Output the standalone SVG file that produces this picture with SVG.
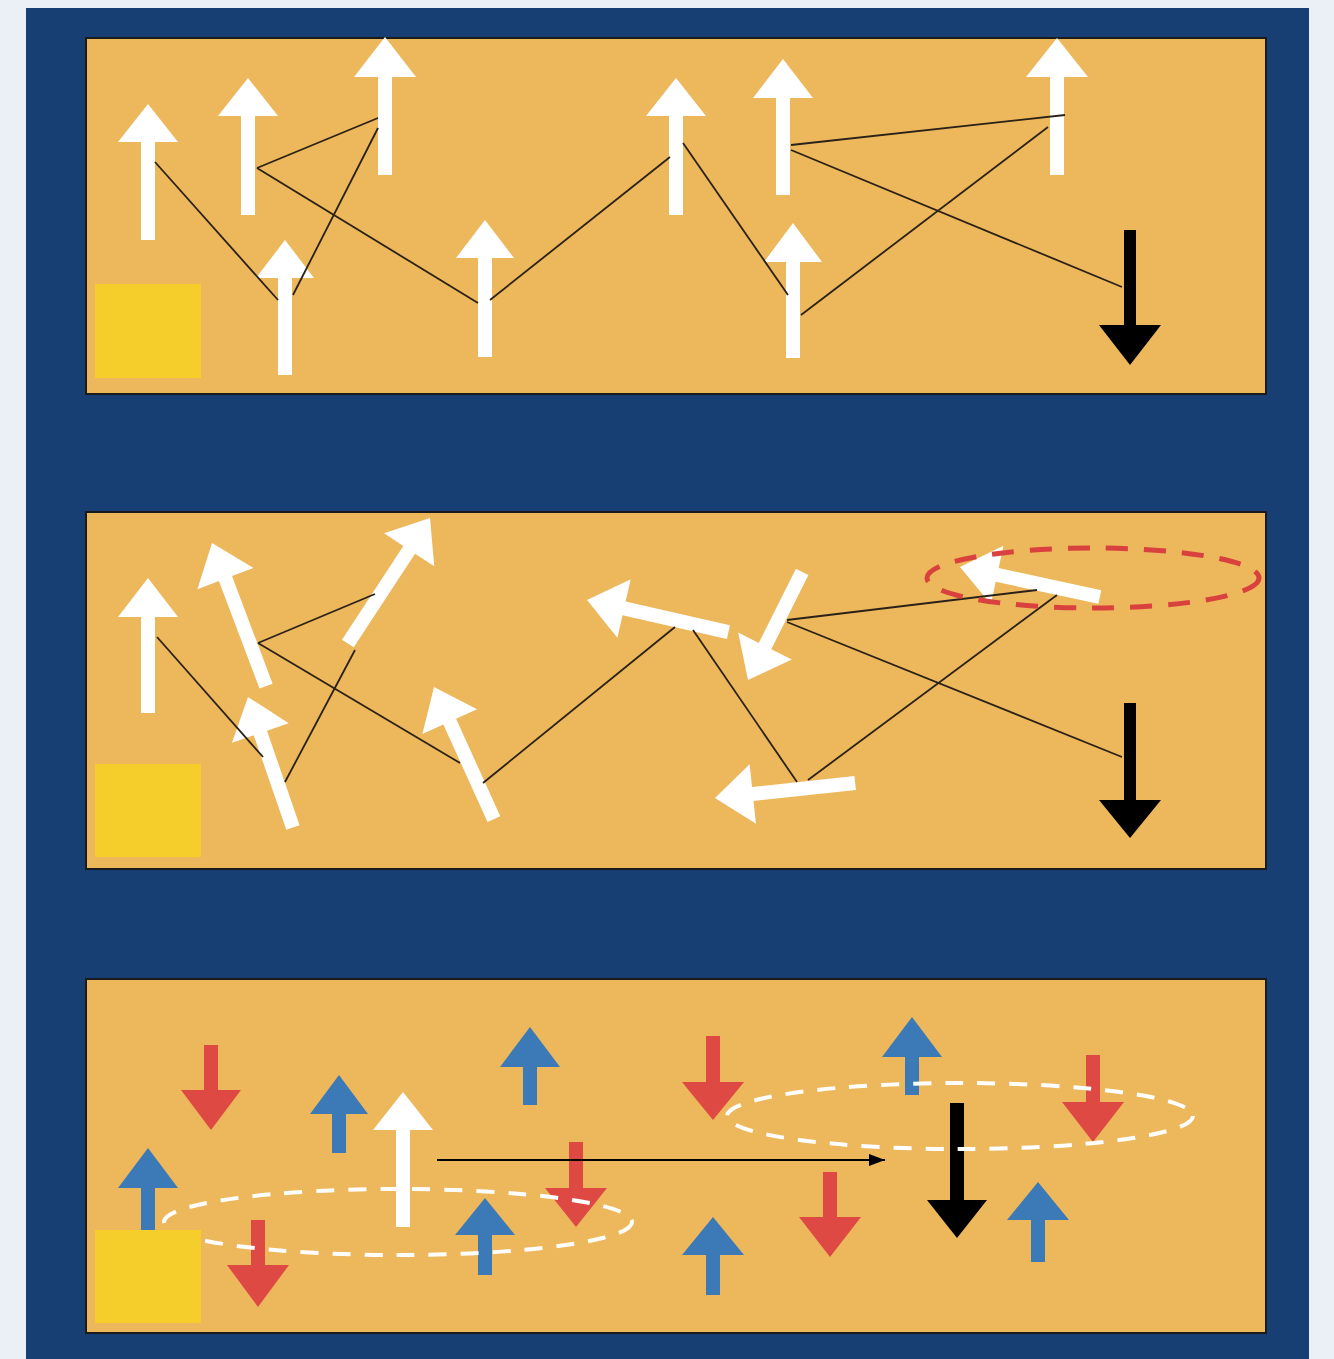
<svg xmlns="http://www.w3.org/2000/svg" width="1334" height="1359" viewBox="0 0 1334 1359">
<style>
.panel{fill:#EDB75C;stroke:#1b1b1b;stroke-width:2}
.sq{fill:#F5CE2B}
.w{fill:#FFFFFF}
.k{fill:#000000}
.r{fill:#DE4944}
.b{fill:#3B7AB7}
.ln{stroke:#2a2118;stroke-width:1.8;fill:none}
.dw{fill:none;stroke:#FFFFFF;stroke-width:4;stroke-dasharray:18 14}
.dr{fill:none;stroke:#D9413F;stroke-width:5;stroke-dasharray:22 16}
</style>
<defs>
<marker id="ah" viewBox="0 0 16 12" refX="16" refY="6" markerWidth="16" markerHeight="12" markerUnits="userSpaceOnUse" orient="auto">
<path d="M0,0 L16,6 L0,12 Z" fill="#000"/>
</marker>
</defs>
<rect x="0" y="0" width="1334" height="1359" fill="#EBF0F6"/>
<rect x="26" y="8" width="1283" height="1351" fill="#173F73"/>

<g id="panel1">
<rect class="panel" x="86" y="38" width="1180" height="356"/>
<rect class="sq" x="95" y="284" width="106" height="94"/>
</g>
<g id="panel2">
<rect class="panel" x="86" y="512" width="1180" height="357"/>
<rect class="sq" x="95" y="764" width="106" height="93"/>
</g>
<g id="panel3">
<rect class="panel" x="86" y="979" width="1180" height="354"/>
</g>

<!-- panel 1 nodes -->
<g id="p1-a1" class="w"><path transform="translate(148,104)" d="M0,0 L30,38 L7,38 L7,136 L-7,136 L-7,38 L-30,38 Z"/></g>
<g id="p1-a2" class="w"><path transform="translate(248,78)" d="M0,0 L30,38 L7,38 L7,137 L-7,137 L-7,38 L-30,38 Z"/></g>
<g id="p1-a3" class="w"><path transform="translate(385,37)" d="M0,0 L31,40 L7,40 L7,138 L-7,138 L-7,40 L-31,40 Z"/></g>
<g id="p1-a4" class="w"><path transform="translate(285,240)" d="M0,0 L29,38 L7,38 L7,135 L-7,135 L-7,38 L-29,38 Z"/></g>
<g id="p1-a5" class="w"><path transform="translate(485,220)" d="M0,0 L29,38 L7,38 L7,137 L-7,137 L-7,38 L-29,38 Z"/></g>
<g id="p1-a6" class="w"><path transform="translate(676,78)" d="M0,0 L30,38 L7,38 L7,137 L-7,137 L-7,38 L-30,38 Z"/></g>
<g id="p1-a7" class="w"><path transform="translate(783,59)" d="M0,0 L30,39 L7,39 L7,136 L-7,136 L-7,39 L-30,39 Z"/></g>
<g id="p1-a8" class="w"><path transform="translate(793,223)" d="M0,0 L29,39 L7,39 L7,135 L-7,135 L-7,39 L-29,39 Z"/></g>
<g id="p1-a9" class="w"><path transform="translate(1057,38)" d="M0,0 L31,39 L7,39 L7,137 L-7,137 L-7,39 L-31,39 Z"/></g>
<g id="p1-black" class="k"><path transform="translate(1130,365) rotate(180)" d="M0,0 L31,40 L6,40 L6,135 L-6,135 L-6,40 L-31,40 Z"/></g>

<!-- panel 2 nodes -->
<g id="p2-a1" class="w"><path transform="translate(148,578)" d="M0,0 L30,39 L7,39 L7,135 L-7,135 L-7,39 L-30,39 Z"/></g>
<g id="p2-a2" class="w"><path transform="translate(212,543) rotate(-20.7)" d="M0,0 L30,38 L7,38 L7,153 L-7,153 L-7,38 L-30,38 Z"/></g>
<g id="p2-a3" class="w"><path transform="translate(430,518) rotate(33.2)" d="M0,0 L30,38 L7,38 L7,150 L-7,150 L-7,38 L-30,38 Z"/></g>
<g id="p2-a4" class="w"><path transform="translate(248,697) rotate(-19)" d="M0,0 L30,38 L7,38 L7,138 L-7,138 L-7,38 L-30,38 Z"/></g>
<g id="p2-a5" class="w"><path transform="translate(434,687) rotate(-24.4)" d="M0,0 L30,38 L7,38 L7,145 L-7,145 L-7,38 L-30,38 Z"/></g>
<g id="p2-a6" class="w"><path transform="translate(587,600) rotate(-77.2)" d="M0,0 L30,38 L7,38 L7,145 L-7,145 L-7,38 L-30,38 Z"/></g>
<g id="p2-a7" class="w"><path transform="translate(748,680) rotate(-153.4)" d="M0,0 L30,38 L7,38 L7,121 L-7,121 L-7,38 L-30,38 Z"/></g>
<g id="p2-a8" class="w"><path transform="translate(715,798) rotate(-96.1)" d="M0,0 L30,38 L7,38 L7,141 L-7,141 L-7,38 L-30,38 Z"/></g>
<g id="p2-a9" class="w"><path transform="translate(960,567) rotate(-77.9)" d="M0,0 L30,38 L7,38 L7,143 L-7,143 L-7,38 L-30,38 Z"/></g>
<g id="p2-black" class="k"><path transform="translate(1130,838) rotate(180)" d="M0,0 L31,38 L6,38 L6,135 L-6,135 L-6,38 L-31,38 Z"/></g>

<!-- panel 3 nodes -->
<g id="p3-r1" class="r"><path transform="translate(211,1130) rotate(180)" d="M0,0 L30,40 L7,40 L7,85 L-7,85 L-7,40 L-30,40 Z"/></g>
<g id="p3-b1" class="b"><path transform="translate(148,1148)" d="M0,0 L30,40 L7,40 L7,82 L-7,82 L-7,40 L-30,40 Z"/></g>
<g id="p3-b2" class="b"><path transform="translate(339,1075)" d="M0,0 L29,39 L7,39 L7,78 L-7,78 L-7,39 L-29,39 Z"/></g>
<g id="p3-w" class="w"><path transform="translate(403,1092)" d="M0,0 L30,38 L7,38 L7,135 L-7,135 L-7,38 L-30,38 Z"/></g>
<g id="p3-r2" class="r"><path transform="translate(258,1307) rotate(180)" d="M0,0 L31,42 L7,42 L7,87 L-7,87 L-7,42 L-31,42 Z"/></g>
<g id="p3-b3" class="b"><path transform="translate(485,1198)" d="M0,0 L30,37 L7,37 L7,77 L-7,77 L-7,37 L-30,37 Z"/></g>
<g id="p3-b4" class="b"><path transform="translate(530,1027)" d="M0,0 L30,40 L7,40 L7,78 L-7,78 L-7,40 L-30,40 Z"/></g>
<g id="p3-r3" class="r"><path transform="translate(576,1227) rotate(180)" d="M0,0 L31,39 L7,39 L7,85 L-7,85 L-7,39 L-31,39 Z"/></g>
<g id="p3-r4" class="r"><path transform="translate(713,1120) rotate(180)" d="M0,0 L31,38 L7,38 L7,84 L-7,84 L-7,38 L-31,38 Z"/></g>
<g id="p3-b5" class="b"><path transform="translate(713,1217)" d="M0,0 L31,38 L7,38 L7,78 L-7,78 L-7,38 L-31,38 Z"/></g>
<g id="p3-r5" class="r"><path transform="translate(830,1257) rotate(180)" d="M0,0 L31,40 L7,40 L7,85 L-7,85 L-7,40 L-31,40 Z"/></g>
<g id="p3-b6" class="b"><path transform="translate(912,1017)" d="M0,0 L30,40 L7,40 L7,78 L-7,78 L-7,40 L-30,40 Z"/></g>
<g id="p3-black" class="k"><path transform="translate(957,1238) rotate(180)" d="M0,0 L30,38 L7,38 L7,135 L-7,135 L-7,38 L-30,38 Z"/></g>
<g id="p3-r6" class="r"><path transform="translate(1093,1142) rotate(180)" d="M0,0 L31,40 L7,40 L7,87 L-7,87 L-7,40 L-31,40 Z"/></g>
<g id="p3-b7" class="b"><path transform="translate(1038,1182)" d="M0,0 L31,38 L7,38 L7,80 L-7,80 L-7,38 L-31,38 Z"/></g>

<!-- connectors -->
<g id="connectors">
<g class="ln">
<line x1="155" y1="162" x2="278" y2="300"/>
<line x1="257" y1="168" x2="378" y2="118"/>
<line x1="257" y1="168" x2="478" y2="303"/>
<line x1="490" y1="300" x2="670" y2="157"/>
<line x1="378" y1="128" x2="293" y2="295"/>
<line x1="683" y1="143" x2="788" y2="295"/>
<line x1="801" y1="315" x2="1048" y2="127"/>
<line x1="791" y1="145" x2="1065" y2="115"/>
<line x1="791" y1="150" x2="1122" y2="287"/>

<line x1="157" y1="637" x2="263" y2="757"/>
<line x1="258" y1="643" x2="375" y2="594"/>
<line x1="258" y1="643" x2="460" y2="763"/>
<line x1="483" y1="783" x2="675" y2="627"/>
<line x1="355" y1="650" x2="285" y2="782"/>
<line x1="693" y1="630" x2="797" y2="782"/>
<line x1="787" y1="620" x2="1037" y2="590"/>
<line x1="808" y1="780" x2="1057" y2="595"/>
<line x1="787" y1="622" x2="1122" y2="757"/>
</g>
<line x1="437" y1="1160" x2="885" y2="1160" stroke="#000" stroke-width="2" marker-end="url(#ah)"/>
</g>

<g id="groupings">
<ellipse class="dr" cx="1093" cy="578" rx="166" ry="30"/>
<ellipse class="dw" cx="398" cy="1222" rx="234" ry="33"/>
<ellipse class="dw" cx="960" cy="1116" rx="233" ry="33"/>
</g>

<g id="panel3-square"><rect class="sq" x="95" y="1230" width="106" height="93"/></g>
</svg>
